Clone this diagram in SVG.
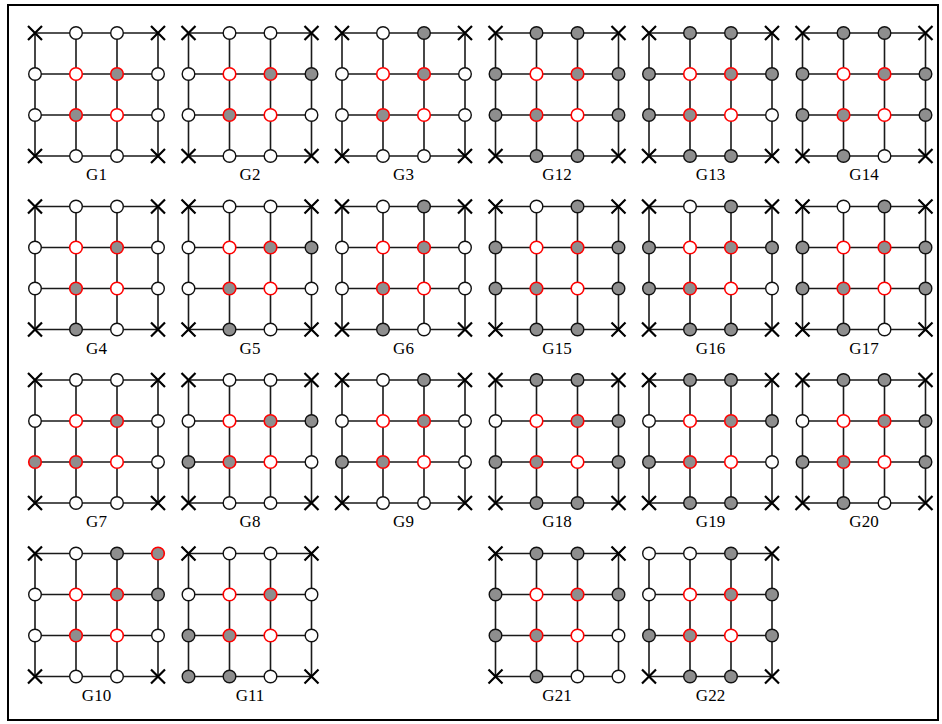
<svg xmlns="http://www.w3.org/2000/svg" width="942" height="724" viewBox="0 0 942 724">
<style>
.ln{stroke:#1a1a1a;stroke-width:1.6;fill:none}
.xm{stroke:#000;stroke-width:2.2;fill:none}
.w{fill:#fff;stroke:#111;stroke-width:1.4}
.g{fill:#8e8e8e;stroke:#111;stroke-width:1.4}
.rw{fill:#fff;stroke:#f00;stroke-width:1.6}
.rg{fill:#8e8e8e;stroke:#f00;stroke-width:1.6}
.lb{font-family:"Liberation Serif","Times New Roman",serif;font-size:17px;fill:#000;text-anchor:middle}
</style>
<defs>
<g id="lat" class="ln">
<path d="M0 0H123M0 41H123M0 82H123M0 123H123M0 0V123M41 0V123M82 0V123M123 0V123"/>
</g>
<path id="x" class="xm" d="M-7 -7L7 7M-7 7L7 -7"/>
<circle id="w" class="w" r="6.3"/>
<circle id="g" class="g" r="6.3"/>
<circle id="R" class="rw" r="6.3"/>
<circle id="S" class="rg" r="6.3"/>
</defs>
<rect x="8" y="5" width="930" height="715" fill="#fff" stroke="#000" stroke-width="2"/>
<g id="connectors"></g>

<g id="G1" transform="translate(35,33)">
<use href="#lat"/>
<use href="#x" x="0" y="0"/><use href="#w" x="41" y="0"/><use href="#w" x="82" y="0"/><use href="#x" x="123" y="0"/>
<use href="#w" x="0" y="41"/><use href="#R" x="41" y="41"/><use href="#S" x="82" y="41"/><use href="#w" x="123" y="41"/>
<use href="#w" x="0" y="82"/><use href="#S" x="41" y="82"/><use href="#R" x="82" y="82"/><use href="#w" x="123" y="82"/>
<use href="#x" x="0" y="123"/><use href="#w" x="41" y="123"/><use href="#w" x="82" y="123"/><use href="#x" x="123" y="123"/>
<text class="lb" x="61.5" y="147">G1</text>
</g>

<g id="G2" transform="translate(188.5,33)">
<use href="#lat"/>
<use href="#x" x="0" y="0"/><use href="#w" x="41" y="0"/><use href="#w" x="82" y="0"/><use href="#x" x="123" y="0"/>
<use href="#w" x="0" y="41"/><use href="#R" x="41" y="41"/><use href="#S" x="82" y="41"/><use href="#g" x="123" y="41"/>
<use href="#w" x="0" y="82"/><use href="#S" x="41" y="82"/><use href="#R" x="82" y="82"/><use href="#w" x="123" y="82"/>
<use href="#x" x="0" y="123"/><use href="#w" x="41" y="123"/><use href="#w" x="82" y="123"/><use href="#x" x="123" y="123"/>
<text class="lb" x="61.5" y="147">G2</text>
</g>

<g id="G3" transform="translate(342,33)">
<use href="#lat"/>
<use href="#x" x="0" y="0"/><use href="#w" x="41" y="0"/><use href="#g" x="82" y="0"/><use href="#x" x="123" y="0"/>
<use href="#w" x="0" y="41"/><use href="#R" x="41" y="41"/><use href="#S" x="82" y="41"/><use href="#w" x="123" y="41"/>
<use href="#w" x="0" y="82"/><use href="#S" x="41" y="82"/><use href="#R" x="82" y="82"/><use href="#w" x="123" y="82"/>
<use href="#x" x="0" y="123"/><use href="#w" x="41" y="123"/><use href="#w" x="82" y="123"/><use href="#x" x="123" y="123"/>
<text class="lb" x="61.5" y="147">G3</text>
</g>

<g id="G12" transform="translate(495.5,33)">
<use href="#lat"/>
<use href="#x" x="0" y="0"/><use href="#g" x="41" y="0"/><use href="#g" x="82" y="0"/><use href="#x" x="123" y="0"/>
<use href="#g" x="0" y="41"/><use href="#R" x="41" y="41"/><use href="#S" x="82" y="41"/><use href="#g" x="123" y="41"/>
<use href="#g" x="0" y="82"/><use href="#S" x="41" y="82"/><use href="#R" x="82" y="82"/><use href="#g" x="123" y="82"/>
<use href="#x" x="0" y="123"/><use href="#g" x="41" y="123"/><use href="#g" x="82" y="123"/><use href="#x" x="123" y="123"/>
<text class="lb" x="61.5" y="147">G12</text>
</g>

<g id="G13" transform="translate(649,33)">
<use href="#lat"/>
<use href="#x" x="0" y="0"/><use href="#g" x="41" y="0"/><use href="#g" x="82" y="0"/><use href="#x" x="123" y="0"/>
<use href="#g" x="0" y="41"/><use href="#R" x="41" y="41"/><use href="#S" x="82" y="41"/><use href="#g" x="123" y="41"/>
<use href="#g" x="0" y="82"/><use href="#S" x="41" y="82"/><use href="#R" x="82" y="82"/><use href="#w" x="123" y="82"/>
<use href="#x" x="0" y="123"/><use href="#g" x="41" y="123"/><use href="#g" x="82" y="123"/><use href="#x" x="123" y="123"/>
<text class="lb" x="61.5" y="147">G13</text>
</g>

<g id="G14" transform="translate(802.5,33)">
<use href="#lat"/>
<use href="#x" x="0" y="0"/><use href="#g" x="41" y="0"/><use href="#g" x="82" y="0"/><use href="#x" x="123" y="0"/>
<use href="#g" x="0" y="41"/><use href="#R" x="41" y="41"/><use href="#S" x="82" y="41"/><use href="#g" x="123" y="41"/>
<use href="#g" x="0" y="82"/><use href="#S" x="41" y="82"/><use href="#R" x="82" y="82"/><use href="#g" x="123" y="82"/>
<use href="#x" x="0" y="123"/><use href="#g" x="41" y="123"/><use href="#w" x="82" y="123"/><use href="#x" x="123" y="123"/>
<text class="lb" x="61.5" y="147">G14</text>
</g>

<g id="G4" transform="translate(35,206.5)">
<use href="#lat"/>
<use href="#x" x="0" y="0"/><use href="#w" x="41" y="0"/><use href="#w" x="82" y="0"/><use href="#x" x="123" y="0"/>
<use href="#w" x="0" y="41"/><use href="#R" x="41" y="41"/><use href="#S" x="82" y="41"/><use href="#w" x="123" y="41"/>
<use href="#w" x="0" y="82"/><use href="#S" x="41" y="82"/><use href="#R" x="82" y="82"/><use href="#w" x="123" y="82"/>
<use href="#x" x="0" y="123"/><use href="#g" x="41" y="123"/><use href="#w" x="82" y="123"/><use href="#x" x="123" y="123"/>
<text class="lb" x="61.5" y="147">G4</text>
</g>

<g id="G5" transform="translate(188.5,206.5)">
<use href="#lat"/>
<use href="#x" x="0" y="0"/><use href="#w" x="41" y="0"/><use href="#w" x="82" y="0"/><use href="#x" x="123" y="0"/>
<use href="#w" x="0" y="41"/><use href="#R" x="41" y="41"/><use href="#S" x="82" y="41"/><use href="#g" x="123" y="41"/>
<use href="#w" x="0" y="82"/><use href="#S" x="41" y="82"/><use href="#R" x="82" y="82"/><use href="#w" x="123" y="82"/>
<use href="#x" x="0" y="123"/><use href="#g" x="41" y="123"/><use href="#w" x="82" y="123"/><use href="#x" x="123" y="123"/>
<text class="lb" x="61.5" y="147">G5</text>
</g>

<g id="G6" transform="translate(342,206.5)">
<use href="#lat"/>
<use href="#x" x="0" y="0"/><use href="#w" x="41" y="0"/><use href="#g" x="82" y="0"/><use href="#x" x="123" y="0"/>
<use href="#w" x="0" y="41"/><use href="#R" x="41" y="41"/><use href="#S" x="82" y="41"/><use href="#w" x="123" y="41"/>
<use href="#w" x="0" y="82"/><use href="#S" x="41" y="82"/><use href="#R" x="82" y="82"/><use href="#w" x="123" y="82"/>
<use href="#x" x="0" y="123"/><use href="#g" x="41" y="123"/><use href="#w" x="82" y="123"/><use href="#x" x="123" y="123"/>
<text class="lb" x="61.5" y="147">G6</text>
</g>

<g id="G15" transform="translate(495.5,206.5)">
<use href="#lat"/>
<use href="#x" x="0" y="0"/><use href="#w" x="41" y="0"/><use href="#g" x="82" y="0"/><use href="#x" x="123" y="0"/>
<use href="#g" x="0" y="41"/><use href="#R" x="41" y="41"/><use href="#S" x="82" y="41"/><use href="#g" x="123" y="41"/>
<use href="#g" x="0" y="82"/><use href="#S" x="41" y="82"/><use href="#R" x="82" y="82"/><use href="#g" x="123" y="82"/>
<use href="#x" x="0" y="123"/><use href="#g" x="41" y="123"/><use href="#g" x="82" y="123"/><use href="#x" x="123" y="123"/>
<text class="lb" x="61.5" y="147">G15</text>
</g>

<g id="G16" transform="translate(649,206.5)">
<use href="#lat"/>
<use href="#x" x="0" y="0"/><use href="#w" x="41" y="0"/><use href="#g" x="82" y="0"/><use href="#x" x="123" y="0"/>
<use href="#g" x="0" y="41"/><use href="#R" x="41" y="41"/><use href="#S" x="82" y="41"/><use href="#g" x="123" y="41"/>
<use href="#g" x="0" y="82"/><use href="#S" x="41" y="82"/><use href="#R" x="82" y="82"/><use href="#w" x="123" y="82"/>
<use href="#x" x="0" y="123"/><use href="#g" x="41" y="123"/><use href="#g" x="82" y="123"/><use href="#x" x="123" y="123"/>
<text class="lb" x="61.5" y="147">G16</text>
</g>

<g id="G17" transform="translate(802.5,206.5)">
<use href="#lat"/>
<use href="#x" x="0" y="0"/><use href="#w" x="41" y="0"/><use href="#g" x="82" y="0"/><use href="#x" x="123" y="0"/>
<use href="#g" x="0" y="41"/><use href="#R" x="41" y="41"/><use href="#S" x="82" y="41"/><use href="#g" x="123" y="41"/>
<use href="#g" x="0" y="82"/><use href="#S" x="41" y="82"/><use href="#R" x="82" y="82"/><use href="#g" x="123" y="82"/>
<use href="#x" x="0" y="123"/><use href="#g" x="41" y="123"/><use href="#w" x="82" y="123"/><use href="#x" x="123" y="123"/>
<text class="lb" x="61.5" y="147">G17</text>
</g>

<g id="G7" transform="translate(35,380)">
<use href="#lat"/>
<use href="#x" x="0" y="0"/><use href="#w" x="41" y="0"/><use href="#w" x="82" y="0"/><use href="#x" x="123" y="0"/>
<use href="#w" x="0" y="41"/><use href="#R" x="41" y="41"/><use href="#S" x="82" y="41"/><use href="#w" x="123" y="41"/>
<use href="#S" x="0" y="82"/><use href="#S" x="41" y="82"/><use href="#R" x="82" y="82"/><use href="#w" x="123" y="82"/>
<use href="#x" x="0" y="123"/><use href="#w" x="41" y="123"/><use href="#w" x="82" y="123"/><use href="#x" x="123" y="123"/>
<text class="lb" x="61.5" y="147">G7</text>
</g>

<g id="G8" transform="translate(188.5,380)">
<use href="#lat"/>
<use href="#x" x="0" y="0"/><use href="#w" x="41" y="0"/><use href="#w" x="82" y="0"/><use href="#x" x="123" y="0"/>
<use href="#w" x="0" y="41"/><use href="#R" x="41" y="41"/><use href="#S" x="82" y="41"/><use href="#g" x="123" y="41"/>
<use href="#g" x="0" y="82"/><use href="#S" x="41" y="82"/><use href="#R" x="82" y="82"/><use href="#w" x="123" y="82"/>
<use href="#x" x="0" y="123"/><use href="#w" x="41" y="123"/><use href="#w" x="82" y="123"/><use href="#x" x="123" y="123"/>
<text class="lb" x="61.5" y="147">G8</text>
</g>

<g id="G9" transform="translate(342,380)">
<use href="#lat"/>
<use href="#x" x="0" y="0"/><use href="#w" x="41" y="0"/><use href="#g" x="82" y="0"/><use href="#x" x="123" y="0"/>
<use href="#w" x="0" y="41"/><use href="#R" x="41" y="41"/><use href="#S" x="82" y="41"/><use href="#w" x="123" y="41"/>
<use href="#g" x="0" y="82"/><use href="#S" x="41" y="82"/><use href="#R" x="82" y="82"/><use href="#w" x="123" y="82"/>
<use href="#x" x="0" y="123"/><use href="#w" x="41" y="123"/><use href="#w" x="82" y="123"/><use href="#x" x="123" y="123"/>
<text class="lb" x="61.5" y="147">G9</text>
</g>

<g id="G18" transform="translate(495.5,380)">
<use href="#lat"/>
<use href="#x" x="0" y="0"/><use href="#g" x="41" y="0"/><use href="#g" x="82" y="0"/><use href="#x" x="123" y="0"/>
<use href="#w" x="0" y="41"/><use href="#R" x="41" y="41"/><use href="#S" x="82" y="41"/><use href="#g" x="123" y="41"/>
<use href="#g" x="0" y="82"/><use href="#S" x="41" y="82"/><use href="#R" x="82" y="82"/><use href="#g" x="123" y="82"/>
<use href="#x" x="0" y="123"/><use href="#g" x="41" y="123"/><use href="#g" x="82" y="123"/><use href="#x" x="123" y="123"/>
<text class="lb" x="61.5" y="147">G18</text>
</g>

<g id="G19" transform="translate(649,380)">
<use href="#lat"/>
<use href="#x" x="0" y="0"/><use href="#g" x="41" y="0"/><use href="#g" x="82" y="0"/><use href="#x" x="123" y="0"/>
<use href="#w" x="0" y="41"/><use href="#R" x="41" y="41"/><use href="#S" x="82" y="41"/><use href="#g" x="123" y="41"/>
<use href="#g" x="0" y="82"/><use href="#S" x="41" y="82"/><use href="#R" x="82" y="82"/><use href="#w" x="123" y="82"/>
<use href="#x" x="0" y="123"/><use href="#g" x="41" y="123"/><use href="#g" x="82" y="123"/><use href="#x" x="123" y="123"/>
<text class="lb" x="61.5" y="147">G19</text>
</g>

<g id="G20" transform="translate(802.5,380)">
<use href="#lat"/>
<use href="#x" x="0" y="0"/><use href="#g" x="41" y="0"/><use href="#g" x="82" y="0"/><use href="#x" x="123" y="0"/>
<use href="#w" x="0" y="41"/><use href="#R" x="41" y="41"/><use href="#S" x="82" y="41"/><use href="#g" x="123" y="41"/>
<use href="#g" x="0" y="82"/><use href="#S" x="41" y="82"/><use href="#R" x="82" y="82"/><use href="#g" x="123" y="82"/>
<use href="#x" x="0" y="123"/><use href="#g" x="41" y="123"/><use href="#w" x="82" y="123"/><use href="#x" x="123" y="123"/>
<text class="lb" x="61.5" y="147">G20</text>
</g>

<g id="G10" transform="translate(35,553.5)">
<use href="#lat"/>
<use href="#x" x="0" y="0"/><use href="#w" x="41" y="0"/><use href="#g" x="82" y="0"/><use href="#S" x="123" y="0"/>
<use href="#w" x="0" y="41"/><use href="#R" x="41" y="41"/><use href="#S" x="82" y="41"/><use href="#g" x="123" y="41"/>
<use href="#w" x="0" y="82"/><use href="#S" x="41" y="82"/><use href="#R" x="82" y="82"/><use href="#w" x="123" y="82"/>
<use href="#x" x="0" y="123"/><use href="#w" x="41" y="123"/><use href="#w" x="82" y="123"/><use href="#x" x="123" y="123"/>
<text class="lb" x="61.5" y="147">G10</text>
</g>

<g id="G11" transform="translate(188.5,553.5)">
<use href="#lat"/>
<use href="#x" x="0" y="0"/><use href="#w" x="41" y="0"/><use href="#w" x="82" y="0"/><use href="#x" x="123" y="0"/>
<use href="#w" x="0" y="41"/><use href="#R" x="41" y="41"/><use href="#S" x="82" y="41"/><use href="#w" x="123" y="41"/>
<use href="#g" x="0" y="82"/><use href="#S" x="41" y="82"/><use href="#R" x="82" y="82"/><use href="#w" x="123" y="82"/>
<use href="#g" x="0" y="123"/><use href="#g" x="41" y="123"/><use href="#w" x="82" y="123"/><use href="#x" x="123" y="123"/>
<text class="lb" x="61.5" y="147">G11</text>
</g>

<g id="G21" transform="translate(495.5,553.5)">
<use href="#lat"/>
<use href="#x" x="0" y="0"/><use href="#g" x="41" y="0"/><use href="#g" x="82" y="0"/><use href="#x" x="123" y="0"/>
<use href="#g" x="0" y="41"/><use href="#R" x="41" y="41"/><use href="#S" x="82" y="41"/><use href="#g" x="123" y="41"/>
<use href="#g" x="0" y="82"/><use href="#S" x="41" y="82"/><use href="#R" x="82" y="82"/><use href="#w" x="123" y="82"/>
<use href="#x" x="0" y="123"/><use href="#g" x="41" y="123"/><use href="#w" x="82" y="123"/><use href="#w" x="123" y="123"/>
<text class="lb" x="61.5" y="147">G21</text>
</g>

<g id="G22" transform="translate(649,553.5)">
<use href="#lat"/>
<use href="#w" x="0" y="0"/><use href="#w" x="41" y="0"/><use href="#g" x="82" y="0"/><use href="#x" x="123" y="0"/>
<use href="#w" x="0" y="41"/><use href="#R" x="41" y="41"/><use href="#S" x="82" y="41"/><use href="#g" x="123" y="41"/>
<use href="#g" x="0" y="82"/><use href="#S" x="41" y="82"/><use href="#R" x="82" y="82"/><use href="#g" x="123" y="82"/>
<use href="#x" x="0" y="123"/><use href="#g" x="41" y="123"/><use href="#g" x="82" y="123"/><use href="#x" x="123" y="123"/>
<text class="lb" x="61.5" y="147">G22</text>
</g>
</svg>
